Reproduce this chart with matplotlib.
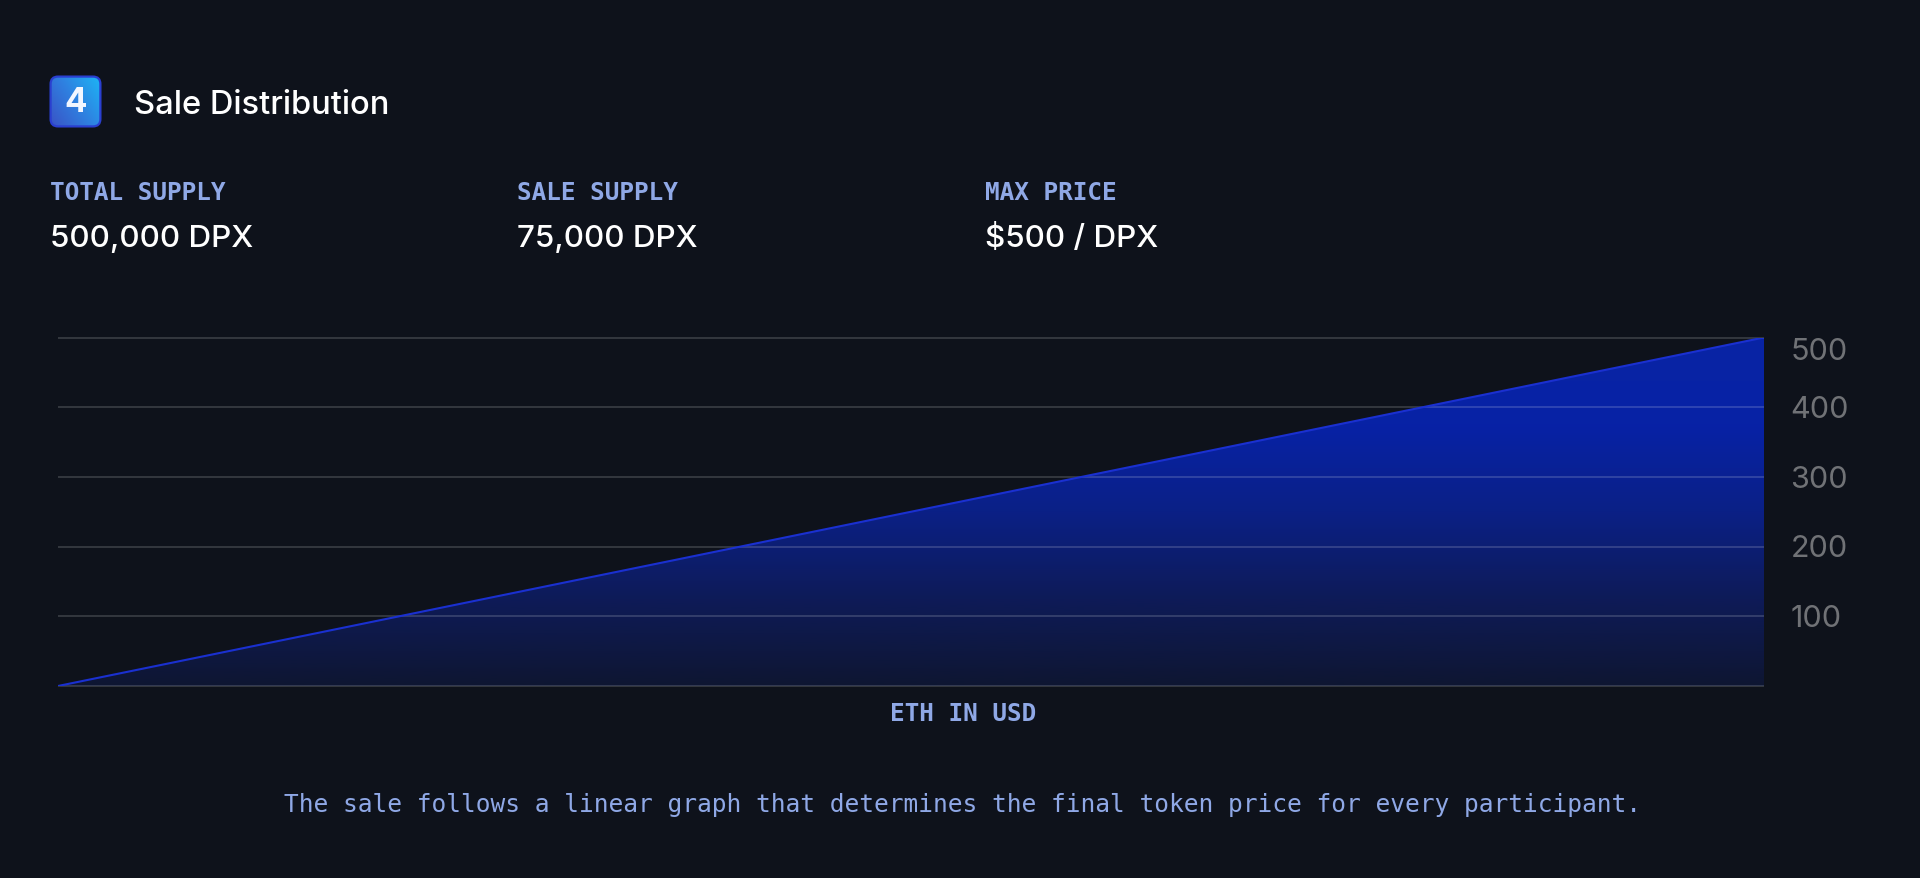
"""Sale distribution panel: linear token price curve with header stats."""

import matplotlib

matplotlib.use("Agg")
import matplotlib.pyplot as plt
import numpy as np
from matplotlib.colors import LinearSegmentedColormap
from matplotlib.patches import FancyBboxPatch
from matplotlib.transforms import ScaledTranslation

W, H = 1920, 879
BG = "#0e121b"
MONO = "DejaVu Sans Mono"
SANS = "Inter"
BLUE_LABEL = "#8fa8e6"

# Chart data
eth_position = [0, 1]
token_price = [0, 500]
price_ticks = [0, 100, 200, 300, 400, 500]
price_tick_labels = ["", "100", "200", "300", "400", "500"]

# Header stats
stat_labels = ["TOTAL SUPPLY", "SALE SUPPLY", "MAX PRICE"]
stat_values = ["500,000 DPX", "75,000 DPX", "$500 / DPX"]
stat_left = [50, 517, 985]


def fx(px):
    return px / W


def fy(px):
    return 1 - px / H


def draw_badge(fig):
    """Draw the rounded number badge with its diagonal gradient."""
    ax = fig.add_axes([fx(49), fy(129), 53 / W, 53 / H])
    ax.set_xlim(0, 1)
    ax.set_ylim(0, 1)
    ax.axis("off")
    cmap = LinearSegmentedColormap.from_list("badge", ["#3a50c4", "#2f80e0", "#1cb8f6"])
    xx, yy = np.meshgrid(np.linspace(0, 1, 64), np.linspace(0, 1, 64))
    grad = 0.6 * xx + 0.4 * yy
    img = ax.imshow(grad, extent=[0, 1, 0, 1], origin="lower", cmap=cmap, aspect="auto")
    box = FancyBboxPatch(
        (0.03, 0.03),
        0.94,
        0.94,
        boxstyle="round,pad=0,rounding_size=0.14",
        facecolor="none",
        edgecolor="#2a3fd0",
        lw=1.6,
        transform=ax.transData,
    )
    ax.add_patch(box)
    img.set_clip_path(box)
    ax.text(0.5, 0.5, "4", color="#f2f6ff", fontsize=24, fontweight="bold",
            family=SANS, ha="center", va="center")


def draw_chart(fig):
    """Draw the price line, its gradient fill and the right hand price axis."""
    ax = fig.add_axes([fx(58), fy(687), (1764 - 58) / W, (687 - 338.5) / H])
    ax.set_facecolor("none")
    ax.set_xlim(eth_position[0], eth_position[-1])
    ax.set_ylim(price_ticks[0], price_ticks[-1])

    # Gradient fill under the line, clipped to the triangle
    cmap = LinearSegmentedColormap.from_list(
        "fill", ["#0e1632", "#0e1b58", "#0b2086", "#0722a6", "#0924a4"]
    )
    grad = np.linspace(0, 1, 256).reshape(-1, 1)
    img = ax.imshow(
        grad,
        extent=[eth_position[0], eth_position[-1], price_ticks[0], price_ticks[-1]],
        origin="lower",
        aspect="auto",
        cmap=cmap,
        zorder=1,
    )
    poly = ax.fill_between(eth_position, token_price, price_ticks[0], color="none", zorder=1)
    img.set_clip_path(poly.get_paths()[0], transform=ax.transData)

    for value in price_ticks:
        ax.axhline(value, color="white", alpha=0.17, lw=1.3, zorder=2, clip_on=False,
                   solid_capstyle="butt")

    ax.plot(eth_position, token_price, color="#1a30d0", lw=1.5, zorder=3,
            solid_capstyle="butt")

    ax.yaxis.tick_right()
    ax.set_yticks(price_ticks)
    ax.set_yticklabels(price_tick_labels, family=SANS, fontsize=22, color="#707276")
    ax.tick_params(axis="y", length=0, pad=19)
    ax.set_xticks([])
    for spine in ax.spines.values():
        spine.set_visible(False)

    # Labels sit slightly above their gridlines, the top one just inside the plot
    for label in ax.get_yticklabels():
        label.set_transform(label.get_transform() + ScaledTranslation(0, 0.8 / 72, fig.dpi_scale_trans))
    top = ax.get_yticklabels()[-1]
    top.set_transform(top.get_transform() + ScaledTranslation(0, -8.5 / 72, fig.dpi_scale_trans))


def main():
    fig = plt.figure(figsize=(W / 100, H / 100), dpi=100, facecolor=BG)

    draw_badge(fig)
    fig.text(fx(134), fy(105), "Sale Distribution", family=SANS, fontsize=23.5,
             color="white", va="center", fontweight="medium")

    for x, label, value in zip(stat_left, stat_labels, stat_values):
        fig.text(fx(x), fy(193), label, family=MONO, fontsize=17.6, color=BLUE_LABEL,
                 va="center", fontweight="bold")
        fig.text(fx(x), fy(239), value, family=SANS, fontsize=22.6, color="white",
                 va="center", fontweight="medium")

    draw_chart(fig)

    fig.text(fx(963), fy(714), "ETH IN USD", family=MONO, fontsize=17.6, color=BLUE_LABEL,
             ha="center", va="center", fontweight="bold")
    fig.text(fx(963), fy(805),
             "The sale follows a linear graph that determines the final token price for every participant.",
             family=MONO, fontsize=17.63, color=BLUE_LABEL, ha="center", va="center")

    fig.savefig("out.png", dpi=100, facecolor=BG)


if __name__ == "__main__":
    main()
